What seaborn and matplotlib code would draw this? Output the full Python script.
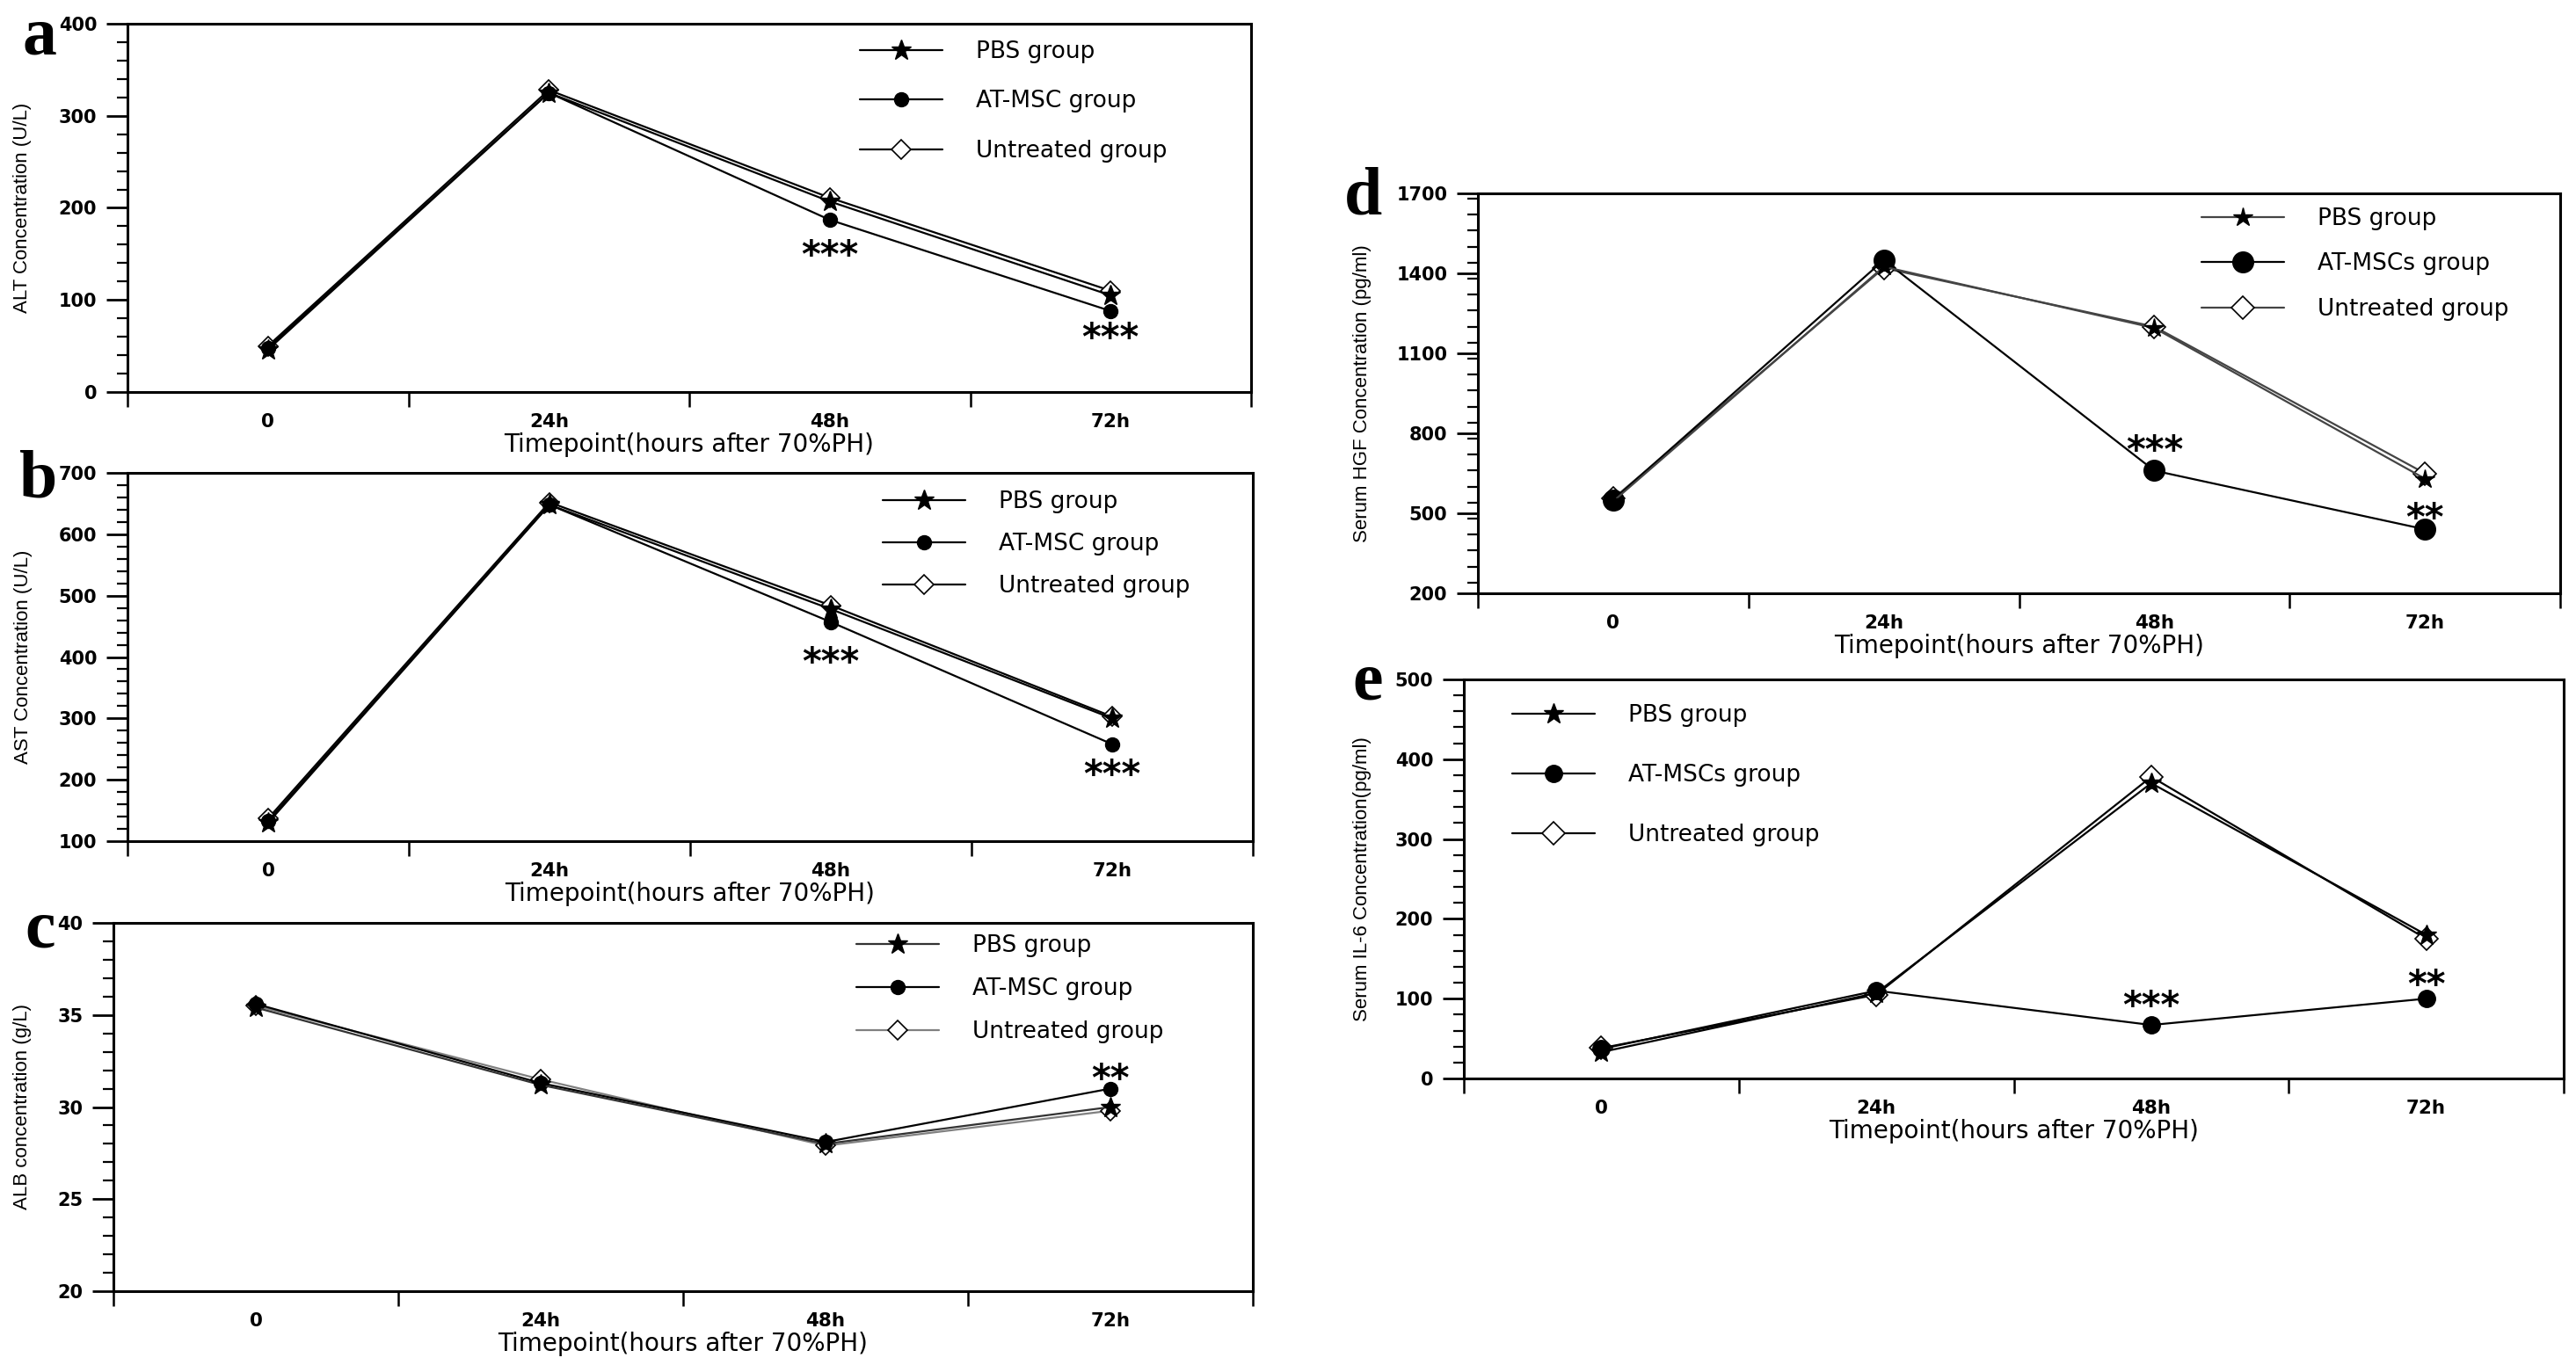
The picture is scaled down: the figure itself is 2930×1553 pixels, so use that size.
import numpy as np
import pandas as pd
import matplotlib
matplotlib.use("Agg")
import matplotlib.pyplot as plt
import seaborn as sns
from matplotlib.ticker import MultipleLocator

# ---------------- data ----------------
timepoints = ["0", "24h", "48h", "72h"]
labels_abc = ["PBS group", "AT-MSC group", "Untreated group"]
labels_de = ["PBS group", "AT-MSCs group", "Untreated group"]

alt_pbs = [46, 325, 207, 105]
alt_atmsc = [48, 325, 187, 88]
alt_untreated = [50, 328, 211, 110]
alt_sig = ["", "", "***", "***"]

ast_pbs = [130, 648, 478, 300]
ast_atmsc = [133, 648, 457, 258]
ast_untreated = [137, 652, 484, 303]
ast_sig = ["", "", "***", "***"]

alb_pbs = [35.4, 31.2, 28.0, 30.0]
alb_atmsc = [35.6, 31.3, 28.1, 31.0]
alb_untreated = [35.5, 31.5, 27.9, 29.8]
alb_sig = ["", "", "", "**"]

hgf_pbs = [545, 1425, 1195, 630]
hgf_atmsc = [550, 1450, 660, 440]
hgf_untreated = [555, 1420, 1200, 650]
hgf_sig = ["", "", "***", "**"]

il6_pbs = [33, 107, 370, 180]
il6_atmsc = [37, 110, 67, 100]
il6_untreated = [38, 105, 378, 175]
il6_sig = ["", "", "***", "**"]

# ---------------- style ----------------
W, H = 2930, 1553
DPI = 100
sns.set_theme(style="ticks")
plt.rcParams.update({
    "font.family": ["DejaVu Sans"],
    "axes.edgecolor": "black",
    "axes.labelcolor": "black",
    "text.color": "black",
    "xtick.color": "black",
    "ytick.color": "black",
    "axes.linewidth": 2.2,
    "figure.facecolor": "white",
    "axes.facecolor": "white",
})

fig = plt.figure(figsize=(W / DPI, H / DPI), dpi=DPI)

panels = [
    dict(letter="a", rect=(145, 27, 1423, 446), data=(alt_pbs, alt_atmsc, alt_untreated),
         sig=alt_sig, sig_dy=[0, 0, -22, -15], labels=labels_abc,
         ylabel="ALT Concentration (U/L)", ylim=(0, 400), major=100, minor=20,
         leg=(978, 59, 57), ylab_x=-0.0853, letter_xy=(45, 62),
         ms=(17, 11.5, 11), lc=("black", "black", "black")),
    dict(letter="b", rect=(145, 538, 1425, 957), data=(ast_pbs, ast_atmsc, ast_untreated),
         sig=ast_sig, sig_dy=[0, 0, -25.6, -17.6], labels=labels_abc,
         ylabel="AST Concentration (U/L)", ylim=(100, 700), major=100, minor=20,
         leg=(1004, 571, 48.5), ylab_x=-0.0844, letter_xy=(44, 566),
         ms=(17, 11.5, 11), lc=("black", "black", "black")),
    dict(letter="c", rect=(129, 1050, 1425, 1469), data=(alb_pbs, alb_atmsc, alb_untreated),
         sig=alb_sig, sig_dy=[0, 0, 0, 15], labels=labels_abc,
         ylabel="ALB concentration (g/L)", ylim=(20, 40), major=5, minor=1,
         leg=(974, 1076, 49.5), ylab_x=-0.0718, letter_xy=(46, 1078),
         ms=(17, 11.5, 11), lc=("#333333", "black", "#808080")),
    dict(letter="d", rect=(1681, 220, 2912, 675), data=(hgf_pbs, hgf_atmsc, hgf_untreated),
         sig=hgf_sig, sig_dy=[0, 0, 24, 16.6], labels=labels_de,
         ylabel="Serum HGF Concentration (pg/ml)", ylim=(200, 1700), major=300, minor=60,
         leg=(2504, 249, 52), ylab_x=-0.0983, letter_xy=(1550, 244),
         ms=(16, 17, 13), lc=("#444444", "black", "#444444")),
    dict(letter="e", rect=(1665, 773, 2916, 1227), data=(il6_pbs, il6_atmsc, il6_untreated),
         sig=il6_sig, sig_dy=[0, 0, 23, 18.4], labels=labels_de,
         ylabel="Serum IL-6 Concentration(pg/ml)", ylim=(0, 500), major=100, minor=20,
         leg=(1720, 814, 68.5), ylab_x=-0.0839, letter_xy=(1556, 795),
         ms=(17, 14, 13), lc=("black", "black", "black")),
]

LEG_FS = 19
LEG_FS_PX = LEG_FS * DPI / 72
SIG_FS = 30
xpos = np.arange(len(timepoints))

for p in panels:
    l, t, r, b = p["rect"]
    ax = fig.add_axes([l / W, 1 - b / H, (r - l) / W, (b - t) / H])
    pbs, atm, unt = p["data"]
    df = pd.DataFrame({
        "pos": np.tile(xpos, 3),
        "value": np.concatenate([pbs, atm, unt]),
        "group": np.repeat(p["labels"], len(timepoints)),
    })
    ms_star, ms_circ, ms_diam = p["ms"]
    styles = {
        p["labels"][2]: dict(marker="D", markersize=ms_diam, markerfacecolor="white",
                             markeredgecolor="black", markeredgewidth=1.2, color=p["lc"][2], zorder=3),
        p["labels"][1]: dict(marker="o", markersize=ms_circ, markerfacecolor="black",
                             markeredgecolor="black", markeredgewidth=1.0, color=p["lc"][1], zorder=4),
        p["labels"][0]: dict(marker="*", markersize=ms_star, markerfacecolor="black",
                             markeredgecolor="black", markeredgewidth=1.0, color=p["lc"][0], zorder=5),
    }
    for g in [p["labels"][2], p["labels"][1], p["labels"][0]]:
        sub = df[df["group"] == g]
        sns.lineplot(data=sub, x="pos", y="value", ax=ax, errorbar=None, sort=False,
                     linewidth=1.6, label=g, **styles[g])

    # axes limits and ticks
    ax.set_xlim(-0.5, len(timepoints) - 0.5)
    ax.set_xticks(np.arange(-0.5, len(timepoints), 1.0), [""] * (len(timepoints) + 1))
    ax.set_xticks(xpos, timepoints, minor=True, fontsize=15.5, fontweight="bold")
    ax.tick_params(axis="x", which="major", direction="out", length=12, width=1.8, bottom=True, top=False)
    ax.tick_params(axis="x", which="minor", length=0, pad=17)
    lo, hi = p["ylim"]
    ax.set_ylim(lo, hi)
    yt = np.arange(lo, hi + p["major"] / 2, p["major"])
    ax.set_yticks(yt, [f"{v:g}" for v in yt], fontsize=15, fontweight="bold")
    ax.yaxis.set_minor_locator(MultipleLocator(p["minor"]))
    ax.tick_params(axis="y", which="major", direction="out", length=17, width=2.0, pad=8, left=True, right=False)
    ax.tick_params(axis="y", which="minor", direction="out", length=8.6, width=1.6, left=True, right=False)
    for s in ax.spines.values():
        s.set_visible(True)
        s.set_linewidth(2.2)
        s.set_color("black")

    ax.set_xlabel("Timepoint(hours after 70%PH)", fontsize=20, labelpad=2)
    ax.set_ylabel(p["ylabel"], fontsize=16, family=["Liberation Sans", "DejaVu Sans"])
    ax.yaxis.set_label_coords(p["ylab_x"], 0.5)

    # significance marks relative to the AT-MSC points
    for i, s in enumerate(p["sig"]):
        if s:
            ax.annotate(s, xy=(xpos[i], atm[i]), xytext=(0, p["sig_dy"][i] - 0.565 * SIG_FS),
                        textcoords="offset points", ha="center", va="baseline",
                        fontsize=SIG_FS, fontweight="bold", zorder=6)

    # legend
    hx, hy, spacing = p["leg"]
    handles, labs = ax.get_legend_handles_labels()
    order = [labs.index(g) for g in p["labels"]]
    ls = spacing / LEG_FS_PX - 1.0
    ax.legend([handles[k] for k in order], [labs[k] for k in order],
              loc="upper left", bbox_to_anchor=(hx / W, 1 - (hy - LEG_FS_PX / 2) / H),
              bbox_transform=fig.transFigure, frameon=False, fontsize=LEG_FS,
              handlelength=94 / LEG_FS_PX, handletextpad=38 / LEG_FS_PX,
              labelspacing=ls, borderpad=0, borderaxespad=0, numpoints=1)

    # panel letter
    lx, ly = p["letter_xy"]
    fig.text(lx / W, 1 - ly / H, p["letter"], ha="center", va="baseline",
             fontsize=56, fontweight="bold", family=["Liberation Serif", "DejaVu Serif"])

fig.savefig("out.png", dpi=DPI, facecolor="white")
